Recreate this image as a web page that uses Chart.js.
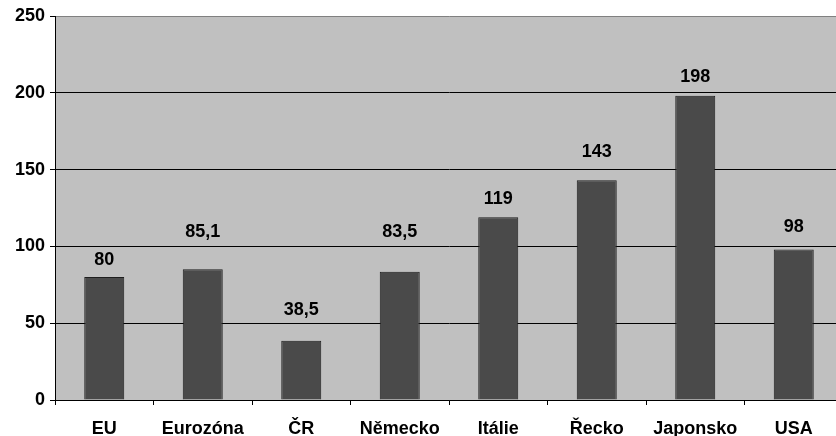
<!DOCTYPE html>
<html>
<head>
<meta charset="utf-8">
<script src="https://cdn.jsdelivr.net/npm/chart.js@4/dist/chart.umd.min.js"></script>
<style>
  html, body { margin: 0; padding: 0; overflow: hidden; background: #ffffff; width: 836px; height: 436px; }
  canvas { position: absolute; left: 0; top: 0; }
</style>
</head>
<body>
<canvas id="c" width="845" height="436"></canvas>
<script>
// Země / oblasti a hodnoty
const categories = ['EU', 'Eurozóna', 'ČR', 'Německo', 'Itálie', 'Řecko', 'Japonsko', 'USA'];
const values = [80, 85.1, 38.5, 83.5, 119, 143, 198, 98];
const yTicks = [0, 50, 100, 150, 200, 250];

// how far above each bar top its value label sits (px)
const labelLift = [17, 37, 31, 40, 18, 28, 19, 22];

const FONT = { family: '"Liberation Sans", Arial, sans-serif', size: 18, weight: 'bold' };

const plotBackground = {
  id: 'plotBackground',
  beforeDraw(chart) {
    const { ctx, chartArea: a } = chart;
    ctx.save();
    ctx.fillStyle = '#c0c0c0';
    ctx.fillRect(a.left, a.top, a.right - a.left, a.bottom - a.top);
    ctx.restore();
  }
};

const valueLabels = {
  id: 'valueLabels',
  afterDatasetsDraw(chart) {
    const { ctx } = chart;
    const meta = chart.getDatasetMeta(0);
    ctx.save();
    ctx.font = `bold ${FONT.size}px ${FONT.family}`;
    ctx.fillStyle = '#000';
    ctx.textAlign = 'center';
    ctx.textBaseline = 'middle';
    meta.data.forEach((bar, i) => {
      const txt = String(values[i]).replace('.', ',');
      ctx.fillText(txt, bar.x, bar.y - labelLift[i]);
    });
    ctx.restore();
  }
};

new Chart(document.getElementById('c'), {
  type: 'bar',
  data: {
    labels: categories,
    datasets: [{
      data: values,
      backgroundColor: '#4a4a4a',
      borderColor: '#1e1e1e',
      borderWidth: 1,
      categoryPercentage: 1,
      barPercentage: 0.406
    }]
  },
  options: {
    responsive: false,
    animation: false,
    devicePixelRatio: 1,
    layout: { padding: { left: 0, top: 16, right: 2, bottom: 0 } },
    plugins: { legend: { display: false }, tooltip: { enabled: false } },
    scales: {
      x: {
        offset: true,
        grid: {
          offset: true,
          drawOnChartArea: false,
          tickLength: 5,
          tickColor: '#000',
          tickWidth: 1
        },
        border: { color: '#000', width: 1 },
        ticks: { color: '#000', font: FONT, padding: 13, maxRotation: 0, autoSkip: false },
        afterFit(scale) { scale.height = 36; }
      },
      y: {
        min: 0,
        max: 250,
        afterBuildTicks(scale) { scale.ticks = yTicks.map(v => ({ value: v })); },
        grid: {
          color: ctx => (ctx.tick && ctx.tick.value === 250 ? '#808080' : '#000'),
          lineWidth: 1,
          tickLength: 5,
          tickColor: '#000'
        },
        border: { color: '#000', width: 1 },
        ticks: { color: '#000', font: FONT, padding: 5 },
        afterFit(scale) { scale.width = 55; }
      }
    }
  },
  plugins: [plotBackground, valueLabels]
});
</script>
</body>
</html>
